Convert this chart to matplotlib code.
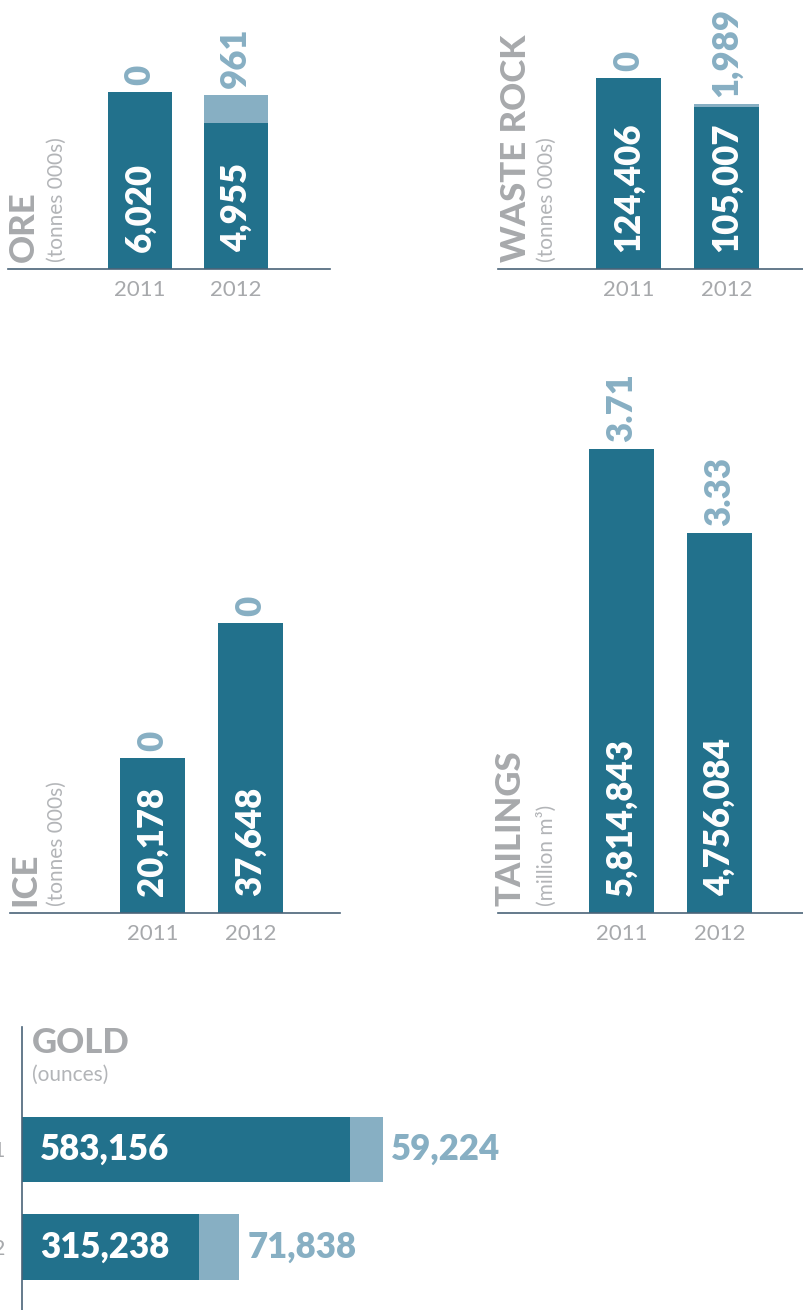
import matplotlib
matplotlib.use('Agg')
import matplotlib.pyplot as plt

# data
years = ['2011', '2012']

ore_main = [6020, 4955]
ore_extra = [0, 961]
ore_extra_lbl = ['0', '961']

waste_main = [124406, 105007]
waste_extra = [0, 1989]
waste_extra_lbl = ['0', '1,989']

ice_main = [20178, 37648]
ice_extra = [0, 0]
ice_extra_lbl = ['0', '0']

tail_main = [5814843, 4756084]
tail_extra = [0, 0]
tail_extra_lbl = ['3.71', '3.33']

gold_main = [583156, 315238]
gold_extra = [59224, 71838]

DARK = '#22718c'
LIGHT = '#87afc3'
GREY = '#a7a9ac'
LINE = '#4a6378'

W, H = 804, 1310
plt.rcParams['font.family'] = ['Lato', 'DejaVu Sans']

fig = plt.figure(figsize=(W / 100, H / 100), dpi=100)


def box(x0, y0, x1, y1):
    # pixel box (top-left origin) -> figure fraction rect
    return [x0 / W, 1 - y1 / H, (x1 - x0) / W, (y1 - y0) / H]


def fig_text(x, y, s, **kw):
    fig.text(x / W, 1 - y / H, s, **kw)


def column_panel(rect, xlim, ymax, main, extra, extra_lbl, title, unit, title_x, unit_x, base_y):
    ax = fig.add_axes(box(*rect))
    x = [0, 1]
    ax.bar(x, main, width=0.665, color=DARK, zorder=2)
    ax.bar(x, extra, width=0.665, bottom=main, color=LIGHT, zorder=2)
    for xi, m, e, lbl in zip(x, main, extra, extra_lbl):
        ax.annotate(f'{m:,}', (xi, 0), xytext=(0, 12), textcoords='offset points',
                    rotation=90, ha='center', va='bottom', color='white',
                    fontsize=25, fontweight='heavy')
        ax.annotate(lbl, (xi, m + e), xytext=(0, 5), textcoords='offset points',
                    rotation=90, ha='center', va='bottom', color=LIGHT,
                    fontsize=25, fontweight='heavy')
    ax.set_xlim(*xlim)
    ax.set_ylim(0, ymax)
    ax.set_xticks(x)
    ax.set_xticklabels(years, fontsize=16, color=GREY)
    ax.tick_params(axis='x', length=0, pad=8)
    ax.set_yticks([])
    for s in ['top', 'right', 'left']:
        ax.spines[s].set_visible(False)
    ax.spines['bottom'].set_color(LINE)
    ax.spines['bottom'].set_linewidth(1.2)
    ax.patch.set_alpha(0)
    fig_text(title_x, base_y - 7, title, rotation=90, ha='center', va='bottom',
             color=GREY, fontsize=25, fontweight='black')
    fig_text(unit_x, base_y - 7, unit, rotation=90, ha='center', va='bottom',
             color='#b3b5b8', fontsize=15)
    return ax


column_panel((8, 0, 330, 269), (-1.37, 1.98), 9146, ore_main, ore_extra, ore_extra_lbl,
             'ORE', '(tonnes 000s)', 24, 57, 269)
column_panel((498, 0, 804, 269), (-1.33, 1.79), 174850, waste_main, waste_extra, waste_extra_lbl,
             'WASTE ROCK', '(tonnes 000s)', 516, 547, 269)
column_panel((10, 330, 340, 913), (-1.45, 1.91), 75790, ice_main, ice_extra, ice_extra_lbl,
             'ICE', '(tonnes 000s)', 25, 57, 913)
column_panel((498, 330, 804, 913), (-1.26, 1.86), 7.3e6, tail_main, tail_extra, tail_extra_lbl,
             'TAILINGS', '(million m³)', 511, 547, 913)

# gold: horizontal stacked bars
ax = fig.add_axes(box(22, 1027, 804, 1310))
y = [0, 1]
ax.barh(y, gold_main, height=0.667, color=DARK, zorder=2)
ax.barh(y, gold_extra, height=0.667, left=gold_main, color=LIGHT, zorder=2)
for yi, m, e in zip(y, gold_main, gold_extra):
    ax.annotate(f'{m:,}', (0, yi), xytext=(13, 0), textcoords='offset points',
                ha='left', va='center', color='white', fontsize=25, fontweight='heavy')
    ax.annotate(f'{e:,}', (m + e, yi), xytext=(6, 0), textcoords='offset points',
                ha='left', va='center', color=LIGHT, fontsize=25, fontweight='heavy')
ax.set_xlim(0, 782 * 1780)
ax.set_ylim(1.646, -1.256)
ax.set_yticks(y)
ax.set_yticklabels(years, fontsize=16, color=GREY)
ax.tick_params(axis='y', length=0, pad=12)
ax.set_xticks([])
for s in ['top', 'right', 'bottom']:
    ax.spines[s].set_visible(False)
ax.spines['left'].set_color(LINE)
ax.spines['left'].set_linewidth(1.2)
ax.patch.set_alpha(0)
fig_text(32, 1043, 'GOLD', ha='left', va='center', color=GREY, fontsize=25, fontweight='black')
fig_text(32, 1075, '(ounces)', ha='left', va='center', color='#b3b5b8', fontsize=15)

fig.savefig('out.png', dpi=100)
